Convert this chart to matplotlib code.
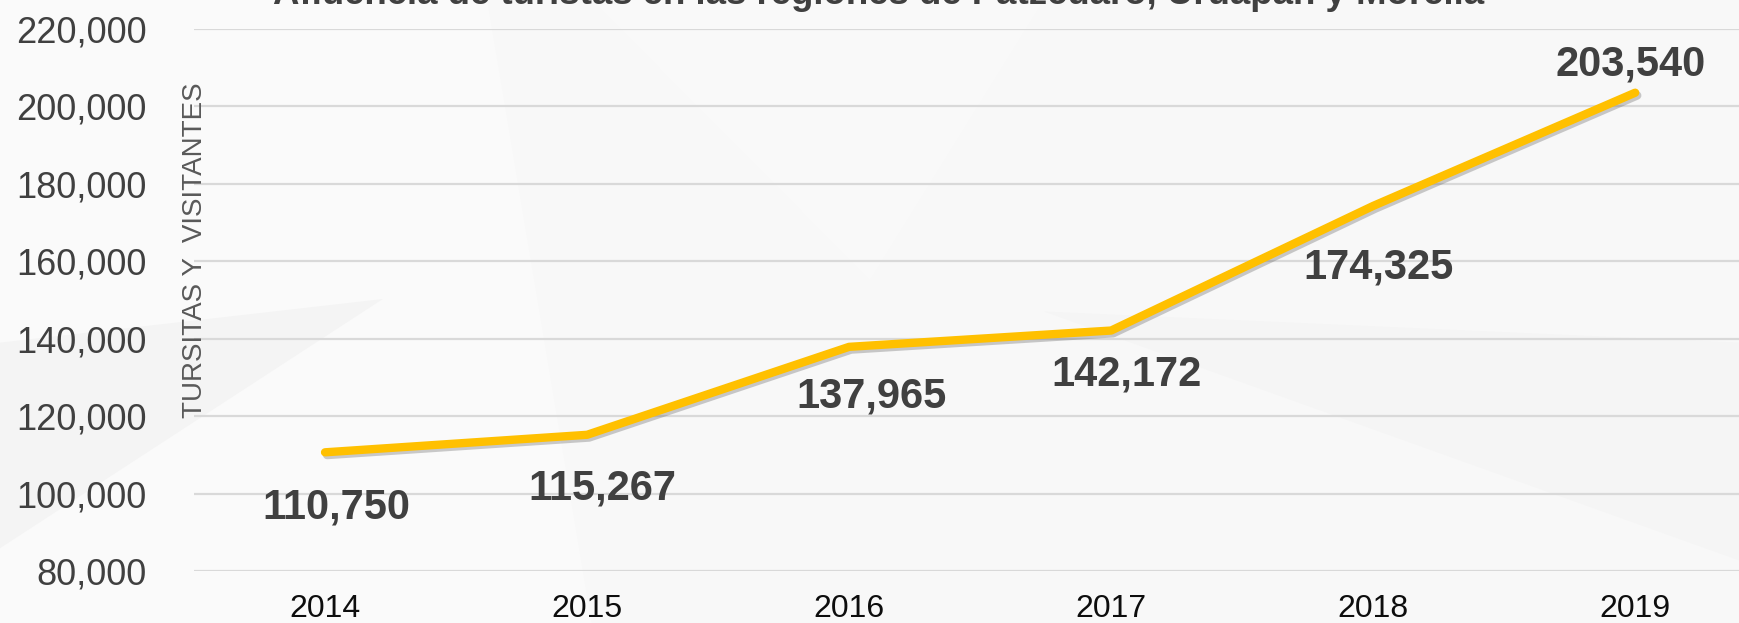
import matplotlib
matplotlib.use('Agg')
import matplotlib.pyplot as plt
import matplotlib.patheffects as pe
from matplotlib.patches import Polygon
from matplotlib.ticker import FuncFormatter

plt.rcParams['font.family'] = ['Liberation Sans', 'DejaVu Sans']

# data
years = ['2014', '2015', '2016', '2017', '2018', '2019']
visitors = [110750, 115267, 137965, 142172, 174325, 203540]
title = 'Afluencia de turistas en las regiones de Pátzcuaro, Uruapan y Morelia'
ylabel = 'TURSITAS Y  VISITANTES'

# label offsets in points (manual placement as in the original)
label_offsets = [(8, -40), (11, -39), (16, -36), (11, -32), (4, -44), (-3, 20)]

fig = plt.figure(figsize=(17.4, 6.23), dpi=100)
fig.patch.set_facecolor('#f8f8f8')

# faint background shapes on their own axes behind everything
bg = fig.add_axes([0, 0, 1, 1], zorder=-1)
bg.set_xlim(0, 1)
bg.set_ylim(0, 1)
bg.axis('off')
for pts, col in [
    ([(0, 1), (0.28, 1), (0.34, 0.0), (0, 0.0)], '#fafafa'),
    ([(0, 0.45), (0.22, 0.52), (0.0, 0.12)], '#f4f4f4'),
    ([(0.34, 1), (0.6, 1), (0.5, 0.55)], '#f9f9f9'),
    ([(0.6, 0.5), (1.0, 0.1), (1.0, 0.45)], '#f5f5f5'),
]:
    bg.add_patch(Polygon(pts, closed=True, facecolor=col, edgecolor='none'))

ax = fig.add_axes([0.1115, 0.0827, 0.8885, 0.8709], zorder=1)
ax.set_facecolor('none')

x = list(range(len(years)))
ax.plot(x, visitors, color='#ffc000', lw=6, solid_capstyle='round',
        solid_joinstyle='round', zorder=3,
        path_effects=[pe.SimpleLineShadow(offset=(1.5, -2), shadow_color='#555555', alpha=0.3),
                      pe.Normal()])

for xi, v, off in zip(x, visitors, label_offsets):
    ax.annotate(f'{v:,}', (xi, v), xytext=off, textcoords='offset points',
                ha='center', va='center', fontsize=30, fontweight='bold',
                color='#404040', zorder=4)

ax.set_xlim(-0.5, 5.4)
ax.set_ylim(80000, 220000)
ax.set_yticks(range(80000, 220001, 20000))
ax.yaxis.set_major_formatter(FuncFormatter(lambda v, p: f'{int(v):,}'))
ax.set_xticks(x)
ax.set_xticklabels(years)
ax.grid(axis='y', color='#d9d9d9', lw=1.6)
ax.set_axisbelow(True)
for s in ax.spines.values():
    s.set_visible(False)
ax.tick_params(axis='y', length=0, pad=34, labelsize=26, labelcolor='#404040')
ax.tick_params(axis='x', length=0, pad=16, labelsize=23, labelcolor='#0d0d0d')

fig.text(0.112, 0.599, ylabel, rotation=90, ha='center', va='center',
         fontsize=20, color='#595959', zorder=5)
# title is cut by the top edge in the original as well
fig.text(0.505, 1 - 4 / 623, title, ha='center', va='baseline',
         fontsize=26.4, fontweight='bold', color='#404040', zorder=5)

fig.savefig('out.png', dpi=100, facecolor=fig.get_facecolor())
